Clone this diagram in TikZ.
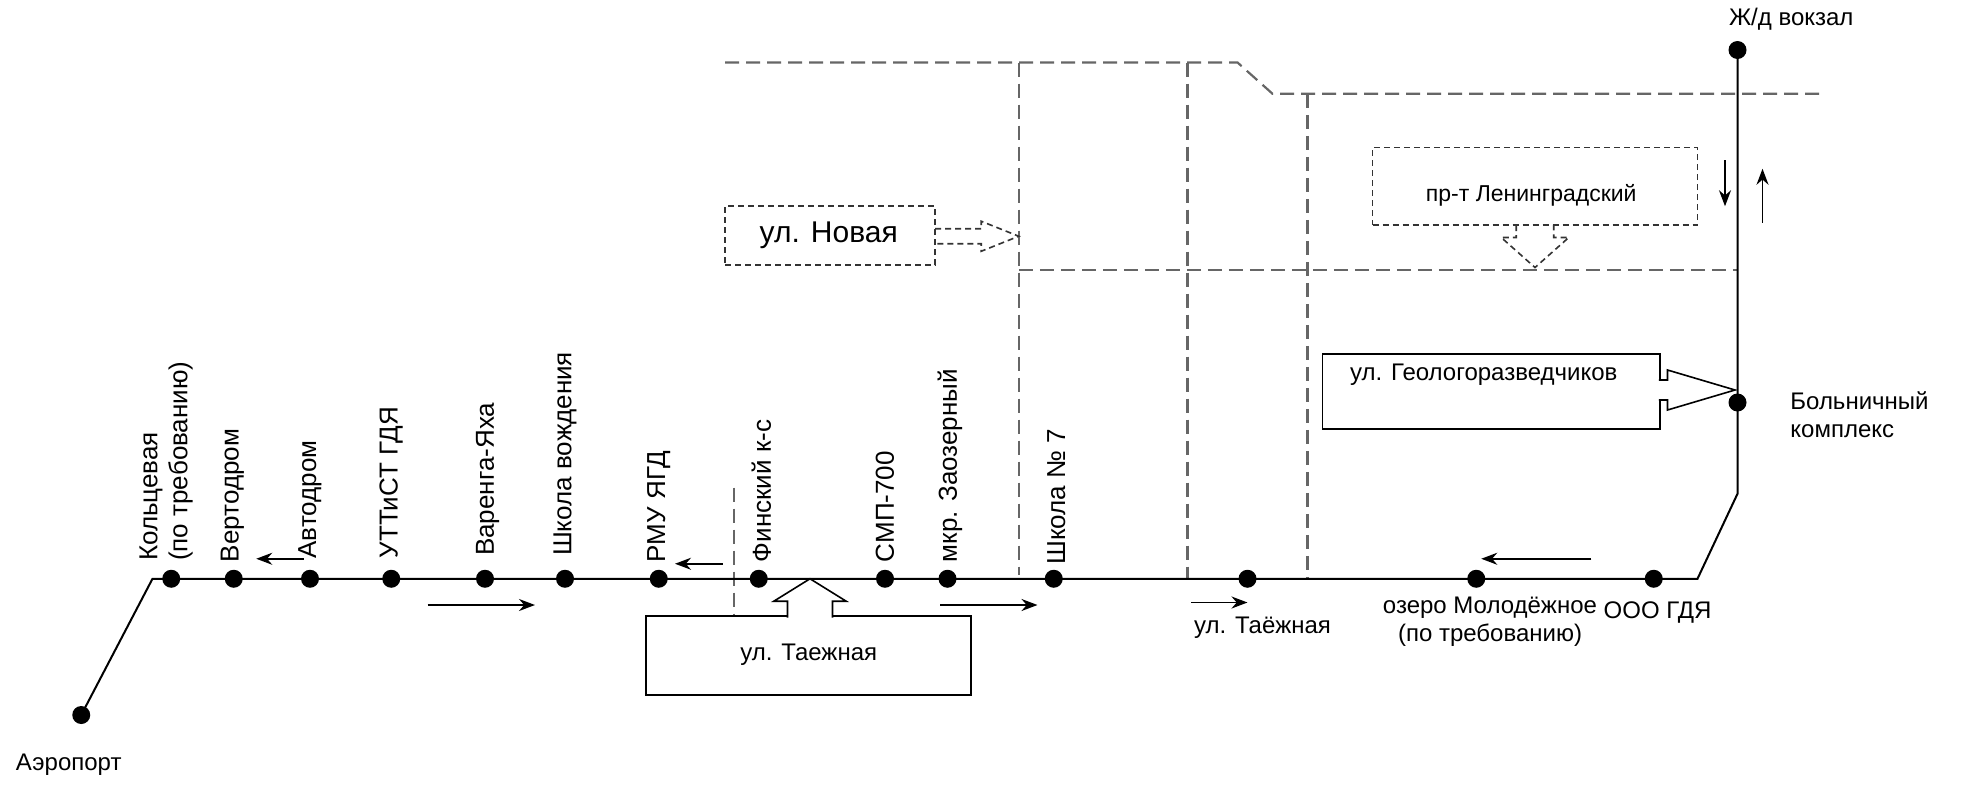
\documentclass[tikz,border=0pt]{standalone}
\usepackage{fontspec}
\setmainfont{Liberation Sans}
\usetikzlibrary{arrows.meta}

\begin{document}
\begin{tikzpicture}[x=0.625pt, y=-0.625pt]
    \tikzstyle{every node}=[inner sep=0pt, font=\fontsize{12}{14}\selectfont]
    \tikzstyle{stopdot}=[circle, fill=black, minimum size=9pt]
    \tikzstyle{stoplbl}=[rotate=90, anchor=west, align=left, font=\fontsize{13}{15}\selectfont]
    \tikzstyle{road}=[draw=black!60, dash pattern=on 7pt off 3.5pt, line width=1.1pt]
    \tikzstyle{way}=[-{Stealth[length=8pt, width=6pt]}, line width=0.9pt]
    \tikzstyle{street}=[draw, line width=0.8pt, fill=white]
    \tikzstyle{newstreet}=[draw=black!80, dash pattern=on 3pt off 2pt, line width=0.8pt]
    \useasboundingbox (0,0) rectangle (1576,630);

    % roads
    \draw[road] (580,50) -- (990,50) -- (1018,75) -- (1460,75);
    \draw[road] (815,50) -- (815,460);
    \draw[road] (950,50) -- (950,463);
    \draw[road] (1046,75) -- (1046,463);
    \draw[road] (815,216) -- (1390,216);
    \draw[road] (587,390) -- (587,495);

    % stops
    \node[stopdot] (aero) at (65,572) {};
    \node[stopdot] (kolc) at (137,463) {};
    \node[stopdot] (verto) at (187,463) {};
    \node[stopdot] (avto) at (248,463) {};
    \node[stopdot] (utt) at (313,463) {};
    \node[stopdot] (varen) at (388,463) {};
    \node[stopdot] (shkvozh) at (452,463) {};
    \node[stopdot] (rmu) at (527,463) {};
    \node[stopdot] (finsk) at (607,463) {};
    \node[stopdot] (smp) at (708,463) {};
    \node[stopdot] (zaoz) at (758,463) {};
    \node[stopdot] (shk7) at (843,463) {};
    \node[stopdot] (taezh) at (998,463) {};
    \node[stopdot] (molod) at (1181,463) {};
    \node[stopdot] (ooo) at (1323,463) {};
    \node[stopdot] (boln) at (1390,322) {};
    \node[stopdot] (vokzal) at (1390,40) {};
    \coordinate (bendW) at (122,463);
    \coordinate (bendE) at (1358,463);
    \coordinate (bendN) at (1390,395);

    % route
    \draw[line width=1pt] (aero.center) -- (bendW) -- (bendE) -- (bendN) -- (vokzal.center);

    % stop names
    \node[stoplbl] (kolc-l) at (133,449) {Кольцевая\\(по требованию)};
    \node[stoplbl] (verto-l) at (186,450) {Вертодром};
    \node[stoplbl] (avto-l) at (248,447) {Автодром};
    \node[stoplbl] (utt-l) at (313,447) {УТТиСТ ГДЯ};
    \node[stoplbl] (varen-l) at (390,445) {Варенга-Яха};
    \node[stoplbl] (shkvozh-l) at (452,445) {Школа вождения};
    \node[stoplbl] (rmu-l) at (527,450) {РМУ ЯГД};
    \node[stoplbl] (finsk-l) at (609,450) {Финский к-с};
    \node[stoplbl] (smp-l) at (708,450) {СМП-700};
    \node[stoplbl] (zaoz-l) at (760,450) {мкр. Заозерный};
    \node[stoplbl] (shk7-l) at (845,452) {Школа № 7};
    \node (aero-l) at (55,612) {Аэропорт};
    \node (taezh-l) at (1010,502) {ул. Таёжная};
    \node[align=center] (molod-l) at (1192,497) {озеро Молодёжное\\(по требованию)};
    \node (ooo-l) at (1326,490) {ООО ГДЯ};
    \node[align=left, anchor=west] (boln-l) at (1432,332) {Больничный\\комплекс};
    \node (vokzal-l) at (1433,15) {Ж/д вокзал};

    % directions
    \draw[way] (243,447) -- (205,447);
    \draw[way] (342,484) -- (428,484);
    \draw[way] (578,451) -- (540,451);
    \draw[way] (752,484) -- (830,484);
    \draw[way] (953,482) -- (998,482);
    \draw[way] (1273,447) -- (1185,447);
    \draw[way] (1380,128) -- (1380,165);
    \draw[way] (1410,178) -- (1410,135);

    % streets
    \node[street, minimum width=162.5pt, minimum height=39.4pt] (taezhbox) at (647,524.5) {};
    \node (taezhbox-t) at (647,524) {ул. Таежная};
    \draw[street] (630,494) -- (630,481) -- (619,481) -- (648,463) -- (677,481) -- (666,481) -- (666,494);

    \node[street, minimum width=168.75pt, minimum height=37.5pt] (geobox) at (1193,313) {};
    \node (geobox-t) at (1187,300) {ул. Геологоразведчиков};
    \draw[street] (1327,304) -- (1334,304) -- (1334,296) -- (1388,312) -- (1334,328) -- (1334,320) -- (1327,320);

    \node[newstreet, minimum width=105pt, minimum height=29.4pt] (novbox) at (664,188.5) {};
    \node[font=\fontsize{15}{17}\selectfont] (novbox-t) at (663,188) {ул. Новая};
    \draw[newstreet] (748,183) -- (785,183) -- (785,177) -- (815,189) -- (785,201) -- (785,195) -- (748,195);

    \node[newstreet, minimum width=162.5pt, minimum height=38.75pt] (lenbox) at (1228,149) {};
    \node[font=\fontsize{11.5}{14}\selectfont] (lenbox-t) at (1225,156) {пр-т Ленинградский};
    \draw[newstreet] (1213,180) -- (1213,190) -- (1201,190) -- (1228,214) -- (1255,190) -- (1243,190) -- (1243,180);
\end{tikzpicture}
\end{document}
